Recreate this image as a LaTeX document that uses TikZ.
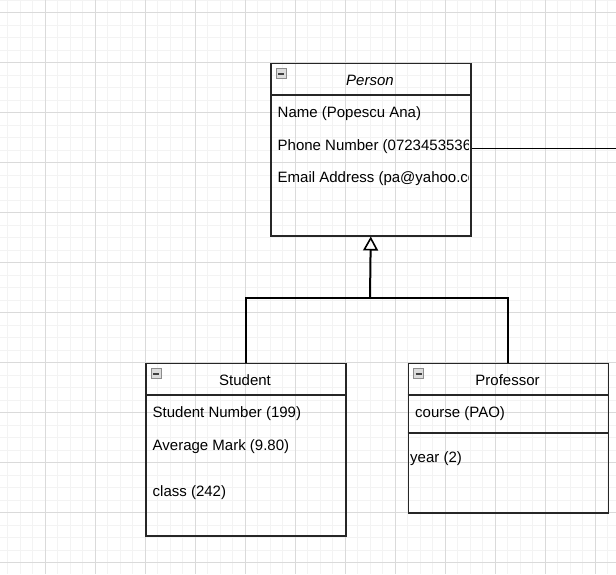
\documentclass[tikz,border=0pt]{standalone}
\usepackage{fontspec}
\setmainfont{Liberation Sans}
\usetikzlibrary{arrows.meta}
\definecolor{gridminor}{HTML}{F3F3F3}
\definecolor{gridmajor}{HTML}{DADADA}
\definecolor{iconedge}{HTML}{8C8C8C}
\definecolor{iconfill}{HTML}{DCDCDC}
\begin{document}
\begin{tikzpicture}[x=1pt,y=-1pt,
  umlbox/.style={draw=black!85,line width=1.5pt,minimum width=200pt,inner sep=0pt,anchor=north west},
  sep/.style={draw=black!85,line width=1.5pt},
  txt/.style={inner sep=0pt,anchor=base west,font=\fontsize{15}{18}\selectfont},
  head/.style={inner sep=0pt,anchor=base,font=\fontsize{15}{18}\selectfont},
  link/.style={draw=black,line width=2pt},
  minus/.style={draw=iconedge,fill=iconfill,line width=1pt}]
\useasboundingbox (0,0) rectangle (616,574);
\fill[white] (0,0) rectangle (616,574);
% background grid
\foreach \g in {-5,7.5,...,620} \draw[gridminor,line width=1pt] (\g,0) -- (\g,574);
\foreach \g in {0,12.5,...,580} \draw[gridminor,line width=1pt] (0,\g) -- (616,\g);
\foreach \g in {-5,45,...,620} \draw[gridmajor,line width=1pt] (\g,0) -- (\g,574);
\foreach \g in {12.5,62.5,...,580} \draw[gridmajor,line width=1pt] (0,\g) -- (616,\g);

% class boxes
\node[umlbox,minimum height=172.5pt] (person) at (270,62.5) {};
\node[umlbox,minimum height=172.5pt] (stud) at (145,362.5) {};
\node[umlbox,minimum height=149.5pt] (prof) at (407.5,362.5) {};
\draw[sep] (270,95) -- (470,95);
\draw[sep] (145,395) -- (345,395);
\draw[sep] (407.5,395) -- (607.5,395);
\draw[sep] (407.5,433) -- (607.5,433);

% collapse icons
\foreach \ix/\iy in {276/68.5,151/368.5,413.5/368.5}{
  \draw[minus] (\ix,\iy) rectangle ++(10,10);
  \draw[black!75,line width=2pt] (\ix+2,\iy+5) -- (\ix+8,\iy+5);
}

% titles
\node[head,font=\fontsize{15}{18}\selectfont\itshape] (tperson) at (370,85) {Person};
\node[head] (tstud) at (245,385) {Student};
\node[head] (tprof) at (507.5,385) {Professor};

% attributes of Person, cut off at the box edge
\begin{scope}
\clip (270,95) rectangle (468.5,235);
\node[txt] (pname) at (277.5,117.3) {Name (Popescu Ana)};
\node[txt] (pphone) at (277.5,150) {Phone Number (0723453536)};
\node[txt] (pmail) at (277.5,182.5) {Email Address (pa@yahoo.com)};
\end{scope}

% attributes of Student
\node[txt] (snum) at (152.5,417) {Student Number (199)};
\node[txt] (smark) at (152.5,450.5) {Average Mark (9.80)};
\node[txt] (sclass) at (152.5,496.5) {class (242)};

% attributes of Professor
\node[txt] (pcourse) at (415,417) {course (PAO)};
\node[txt] (pyear) at (410,462.3) {year (2)};

% inheritance
\coordinate (join) at (370,298);
\draw[link] (stud.north) |- (join) -| (prof.north);
\draw[link,-{Triangle[open,length=14pt,width=15pt,line width=1.6pt]}] (join) -- (person.south);

% association leaving to the right
\coordinate (away) at (616,148.5);
\draw[link,line width=1.8pt] (person.east |- away) -- (away);
\end{tikzpicture}
\end{document}
